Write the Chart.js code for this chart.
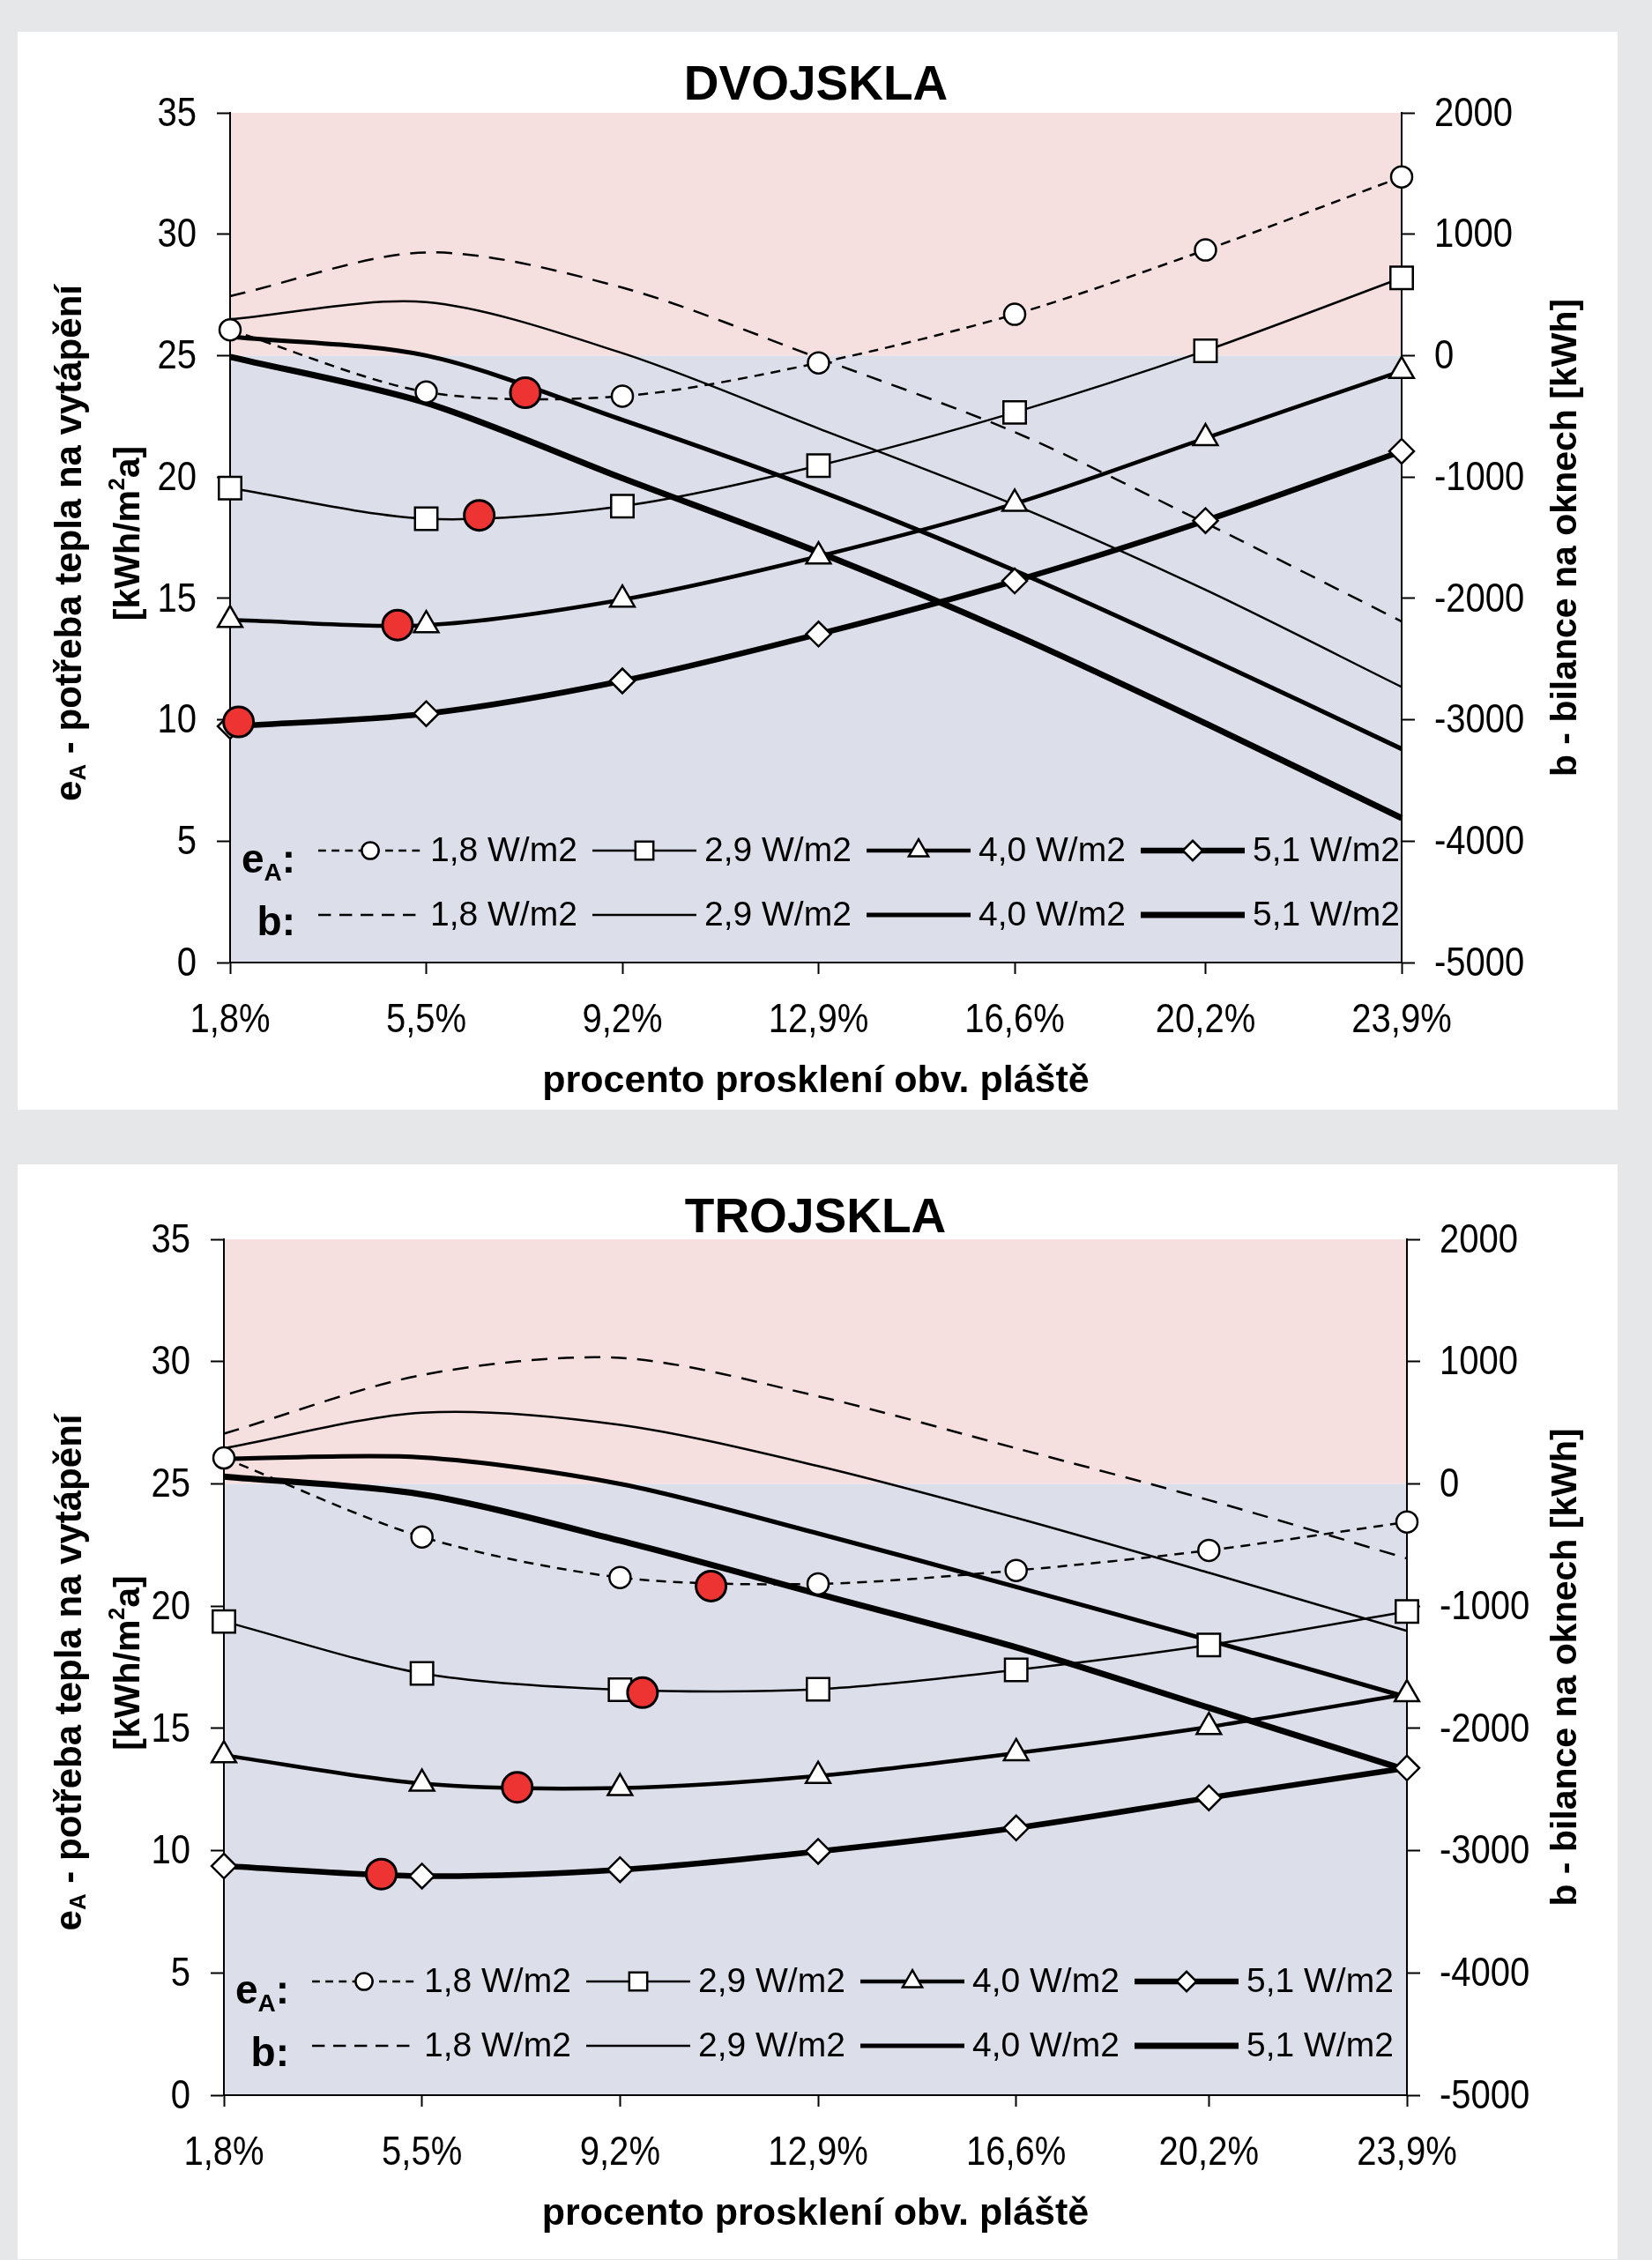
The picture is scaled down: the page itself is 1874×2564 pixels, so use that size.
<!DOCTYPE html>
<html>
<head>
<meta charset="utf-8">
<script src="https://cdn.jsdelivr.net/npm/chart.js@4.4.1/dist/chart.umd.min.js"></script>
<style>
  body { margin: 0; background: #e6e7e9; width: 1874px; height: 2564px; position: relative; overflow: hidden; }
  .panel { position: absolute; left: 20px; width: 1815px; background: #fff; }
  .panel canvas { display: block; }
  #p1 { top: 36px; height: 1223px; }
  #p2 { top: 1321px; height: 1242px; }
</style>
</head>
<body>
<div class="panel" id="p1"><canvas id="dvojskla" width="1815" height="1223"></canvas></div>
<div class="panel" id="p2"><canvas id="trojskla" width="1815" height="1242"></canvas></div>
<script>
// procento prosklení (x)
const glazing = [1.8, 5.5, 9.2, 12.9, 16.6, 20.2, 23.9];
const uLabels = ['1,8 W/m2', '2,9 W/m2', '4,0 W/m2', '5,1 W/m2'];

// DVOJSKLA - eA [kWh/m2a]
const dvojEa18 = [26.06, 23.5, 23.33, 24.7, 26.7, 29.35, 32.36];
const dvojEa29 = [19.54, 18.28, 18.8, 20.47, 22.66, 25.2, 28.2];
const dvojEa40 = [14.11, 13.9, 14.95, 16.73, 18.9, 21.6, 24.37];
const dvojEa51 = [9.73, 10.25, 11.6, 13.53, 15.72, 18.2, 21.06];
// DVOJSKLA - b [kWh]
const dvojB18 = [490, 850, 560, -20, -630, -1380, -2190];
const dvojB29 = [300, 440, 20, -600, -1230, -1930, -2730];
const dvojB40 = [155, 0, -530, -1110, -1770, -2480, -3240];
const dvojB51 = [-10, -390, -1010, -1620, -2300, -3030, -3810];
// DVOJSKLA - minima
const dvojMinX = [1.96, 4.96, 6.5, 7.37];
const dvojMinY = [9.91, 13.9, 18.42, 23.47];

// TROJSKLA - eA [kWh/m2a]
const trojEa18 = [26.06, 22.83, 21.17, 20.91, 21.46, 22.28, 23.44];
const trojEa29 = [19.37, 17.25, 16.58, 16.6, 17.39, 18.41, 19.78];
const trojEa40 = [13.9, 12.74, 12.56, 13.06, 13.99, 15.06, 16.4];
const trojEa51 = [9.37, 8.96, 9.22, 9.97, 10.93, 12.16, 13.38];
// TROJSKLA - b [kWh]
const trojB18 = [410, 890, 1030, 716, 291, -133, -610];
const trojB29 = [291, 582, 483, 146, -278, -727, -1203];
const trojB40 = [204, 216, 0, -406, -843, -1279, -1745];
const trojB51 = [59, -87, -465, -901, -1337, -1831, -2343];
// TROJSKLA - minima
const trojMinX = [4.74, 7.28, 9.62, 10.9];
const trojMinY = [9.04, 12.59, 16.46, 20.82];

const FONT = "'Liberation Sans', Arial, sans-serif";

const eaStyle = [
  { width: 2.5, dash: [11, 8], point: 'circle', radius: 12 },
  { width: 2.5, dash: [], point: 'rect', radius: 18 },
  { width: 4.5, dash: [], point: 'triangle', radius: 16 },
  { width: 6.5, dash: [], point: 'rectRot', radius: 14 },
];
const bStyle = [
  { width: 2.5, dash: [18, 12] },
  { width: 2.5, dash: [] },
  { width: 5, dash: [] },
  { width: 7, dash: [] },
];

const fmtX = v => v.toFixed(1).replace('.', ',') + '%';

function richText(ctx, runs, x, y, size, align) {
  const widths = runs.map(r => {
    ctx.font = 'bold ' + Math.round(size * (r[1] || 1)) + 'px ' + FONT;
    return ctx.measureText(r[0]).width;
  });
  const total = widths.reduce((a, b) => a + b, 0);
  let cx = align === 'center' ? x - total / 2 : (align === 'right' ? x - total : x);
  runs.forEach((r, i) => {
    ctx.font = 'bold ' + Math.round(size * (r[1] || 1)) + 'px ' + FONT;
    ctx.fillText(r[0], cx, y + (r[2] || 0) * size);
    cx += widths[i];
  });
}

const shading = {
  id: 'shading',
  beforeDraw(chart) {
    const { ctx, chartArea: a, scales } = chart;
    const zeroY = scales.y2.getPixelForValue(0);
    ctx.save();
    ctx.fillStyle = '#f5dfdf';
    ctx.fillRect(a.left, a.top, a.right - a.left, zeroY - a.top);
    ctx.fillStyle = '#dcdeea';
    ctx.fillRect(a.left, zeroY, a.right - a.left, a.bottom - zeroY);
    ctx.restore();
  }
};

// tick labels of the scales, drawn slightly condensed like the original
const tickLabels = {
  id: 'tickLabels',
  afterDraw(chart) {
    const { ctx, chartArea: a, scales } = chart;
    const put = (text, x, y, align) => {
      ctx.save();
      ctx.translate(x, y);
      ctx.scale(0.87, 1);
      ctx.textAlign = align;
      ctx.fillText(text, 0, 0);
      ctx.restore();
    };
    ctx.save();
    ctx.fillStyle = '#000';
    ctx.font = '46px ' + FONT;
    ctx.textBaseline = 'middle';
    scales.y.ticks.forEach(t => put(String(t.value), a.left - 38, scales.y.getPixelForValue(t.value) + 2, 'right'));
    scales.y2.ticks.forEach(t => put(String(t.value), a.right + 37, scales.y2.getPixelForValue(t.value) + 2, 'left'));
    scales.x.ticks.forEach(t => put(fmtX(t.value), scales.x.getPixelForValue(t.value), a.bottom + 66, 'center'));
    ctx.restore();
  }
};

const texts = {
  id: 'texts',
  afterDraw(chart, args, opts) {
    const { ctx, chartArea: a } = chart;
    ctx.save();
    ctx.fillStyle = '#000';

    // title
    ctx.font = 'bold 55px ' + FONT;
    ctx.textAlign = 'center';
    ctx.textBaseline = 'middle';
    ctx.fillText(opts.title, (a.left + a.right) / 2, opts.titleY);
    // x axis title
    ctx.font = 'bold 43px ' + FONT;
    ctx.fillText('procento prosklení obv. pláště', (a.left + a.right) / 2, a.bottom + 135);

    ctx.textAlign = 'left';
    ctx.textBaseline = 'alphabetic';
    const midY = (a.top + a.bottom) / 2;
    // left axis title (two lines)
    ctx.save();
    ctx.translate(58, midY + 6);
    ctx.rotate(-Math.PI / 2);
    richText(ctx, [['e'], ['A', 0.62, 0.12], [' - potřeba tepla na vytápění']], 0, 14, 41.5, 'center');
    ctx.restore();
    ctx.save();
    ctx.translate(124, midY - 5);
    ctx.rotate(-Math.PI / 2);
    richText(ctx, [['[kWh/m'], ['2', 0.62, -0.42], ['a]']], 0, 14, 41, 'center');
    ctx.restore();
    // right axis title
    ctx.save();
    ctx.translate(1754, midY);
    ctx.rotate(-Math.PI / 2);
    richText(ctx, [['b - bilance na oknech [kWh]']], 0, 14, 41, 'center');
    ctx.restore();

    // legend
    const eaRow = a.bottom - opts.legendEa;
    const bRow = a.bottom - opts.legendB;
    richText(ctx, [['e'], ['A', 0.6, 0.2], [':']], a.left + 74, eaRow + 25, 46, 'right');
    richText(ctx, [['b:']], a.left + 74, bRow + 23, 46, 'right');
    const helpers = Chart.helpers;
    for (let i = 0; i < 4; i++) {
      const x0 = a.left + 100 + i * 311;
      const len = 118;
      [[eaRow, eaStyle[i]], [bRow, bStyle[i]]].forEach(([ry, st]) => {
        ctx.save();
        ctx.strokeStyle = '#000';
        ctx.lineWidth = st.width;
        ctx.setLineDash(st.dash.length ? [st.dash[0] * 0.8, st.dash[1] * 0.8] : []);
        ctx.beginPath();
        ctx.moveTo(x0, ry);
        ctx.lineTo(x0 + len, ry);
        ctx.stroke();
        ctx.restore();
        if (st.point) {
          ctx.save();
          ctx.fillStyle = '#fff';
          ctx.strokeStyle = '#000';
          ctx.lineWidth = 2.5;
          helpers.drawPoint(ctx, { pointStyle: st.point, radius: st.radius * 0.8, rotation: 0, borderWidth: 2.5 }, x0 + len / 2, ry);
          ctx.restore();
        }
        ctx.font = '39px ' + FONT;
        ctx.textBaseline = 'middle';
        ctx.fillText(uLabels[i], x0 + len + 9, ry + 1);
        ctx.textBaseline = 'alphabetic';
      });
    }
    ctx.restore();
  }
};

function buildChart(canvasId, cfg) {
  const datasets = [];
  datasets.push({
    label: 'minimum',
    data: cfg.minX.map((x, i) => ({ x: x, y: cfg.minY[i] })),
    yAxisID: 'y',
    showLine: false,
    pointRadius: 17,
    pointBackgroundColor: '#ee3333',
    pointBorderColor: '#000',
    pointBorderWidth: 3,
    order: 0,
    clip: false
  });
  cfg.ea.forEach((vals, i) => {
    datasets.push({
      label: 'eA ' + uLabels[i],
      data: glazing.map((x, j) => ({ x: x, y: vals[j] })),
      yAxisID: 'y',
      borderColor: '#000',
      borderWidth: eaStyle[i].width,
      borderDash: eaStyle[i].dash,
      pointStyle: eaStyle[i].point,
      pointRadius: eaStyle[i].radius,
      pointBackgroundColor: '#fff',
      pointBorderColor: '#000',
      pointBorderWidth: 2.5,
      tension: 0.3,
      fill: false,
      order: 1,
      clip: false
    });
  });
  cfg.b.forEach((vals, i) => {
    datasets.push({
      label: 'b ' + uLabels[i],
      data: glazing.map((x, j) => ({ x: x, y: vals[j] })),
      yAxisID: 'y2',
      borderColor: '#000',
      borderWidth: bStyle[i].width,
      borderDash: bStyle[i].dash,
      pointRadius: 0,
      tension: 0.3,
      fill: false,
      order: 2,
      clip: false
    });
  });

  const axisGrid = { display: true, drawOnChartArea: false, drawTicks: true, tickLength: 15, tickColor: '#000', tickWidth: 2 };

  return new Chart(document.getElementById(canvasId), {
    type: 'line',
    data: { datasets: datasets },
    options: {
      responsive: false,
      animation: false,
      events: [],
      layout: { padding: { top: cfg.top, left: 0, right: 0, bottom: 0 } },
      plugins: {
        legend: { display: false },
        tooltip: { enabled: false },
        texts: { title: cfg.title, titleY: cfg.titleY, legendEa: cfg.legendEa, legendB: cfg.legendB }
      },
      scales: {
        x: {
          type: 'linear',
          min: 1.8,
          max: 23.9,
          afterBuildTicks: s => { s.ticks = glazing.map(v => ({ value: v })); },
          afterFit: s => { s.height = cfg.xH; },
          ticks: { display: false, autoSkip: false },
          grid: Object.assign({}, axisGrid, { tickLength: 13 }),
          border: { color: '#000', width: 2 }
        },
        y: {
          position: 'left',
          min: 0,
          max: 35,
          afterFit: s => { s.width = cfg.leftW; },
          ticks: { display: false, stepSize: 5 },
          grid: axisGrid,
          border: { color: '#000', width: 2 }
        },
        y2: {
          position: 'right',
          min: -5000,
          max: 2000,
          afterFit: s => { s.width = cfg.rightW; },
          ticks: { display: false, stepSize: 1000 },
          grid: axisGrid,
          border: { color: '#000', width: 2 }
        }
      }
    },
    plugins: [shading, tickLabels, texts]
  });
}

buildChart('dvojskla', {
  title: 'DVOJSKLA', titleY: 62,
  top: 92, leftW: 241, rightW: 245, xH: 167,
  legendEa: 127, legendB: 54,
  ea: [dvojEa18, dvojEa29, dvojEa40, dvojEa51],
  b: [dvojB18, dvojB29, dvojB40, dvojB51],
  minX: dvojMinX, minY: dvojMinY
});

buildChart('trojskla', {
  title: 'TROJSKLA', titleY: 62,
  top: 85, leftW: 234, rightW: 239, xH: 186,
  legendEa: 129, legendB: 56,
  ea: [trojEa18, trojEa29, trojEa40, trojEa51],
  b: [trojB18, trojB29, trojB40, trojB51],
  minX: trojMinX, minY: trojMinY
});
</script>
</body>
</html>
